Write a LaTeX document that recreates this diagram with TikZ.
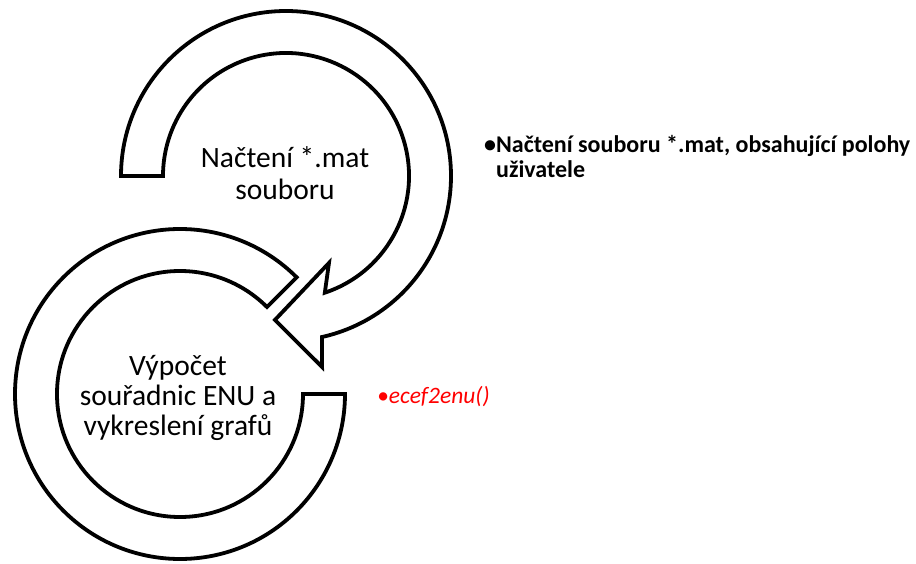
\documentclass[tikz,border=0pt]{standalone}
\usepackage{fontspec}
\setmainfont{Carlito}
\usetikzlibrary{calc}
\begin{document}
\begin{tikzpicture}[x=1pt,y=1pt,
  ring/.style={draw=black, line width=3.8pt, fill=white, line join=miter},
  bigtext/.style={align=center, inner sep=0pt, anchor=base},
  sidetext/.style={font=\bfseries\fontsize{24}{25}\selectfont, align=left, anchor=base west, inner sep=0pt}]
\useasboundingbox (0,0) rectangle (916,563);
\coordinate (c1) at (286,387);
\coordinate (c2) at (180,169);
% top circular arrow
\draw[ring] ($(c1)+(180:165)$) arc[start angle=180,end angle=-77.4,radius=165]
  -- ($(c1)+(-79.3:194.4)$) -- ($(c1)+(-94.4:144.4)$) -- ($(c1)+(-63.7:97)$)
  -- ($(c1)+(-71.6:123)$) arc[start angle=-71.6,end angle=180,radius=123] -- cycle;
% bottom ring
\draw[ring] ($(c2)+(45:165)$) arc[start angle=45,end angle=360,radius=165]
  -- ($(c2)+(0:123)$) arc[start angle=360,end angle=45,radius=123] -- cycle;
\node[bigtext, font=\fontsize{29.5}{32}\selectfont] (t1) at (285,363) {Načtení *.mat\\souboru};
\node[bigtext, font=\fontsize{29.5}{30}\selectfont] (t2) at (178,128) {Výpočet\\souřadnic ENU a\\vykreslení grafů};
\node[sidetext] (t3) at (484,385) {•Načtení souboru *.mat, obsahující polohy\\\phantom{•}uživatele};
\node[sidetext, font=\itshape\fontsize{23.5}{25}\selectfont, text=red] (t4) at (377,160) {•ecef2enu()};
\end{tikzpicture}
\end{document}
